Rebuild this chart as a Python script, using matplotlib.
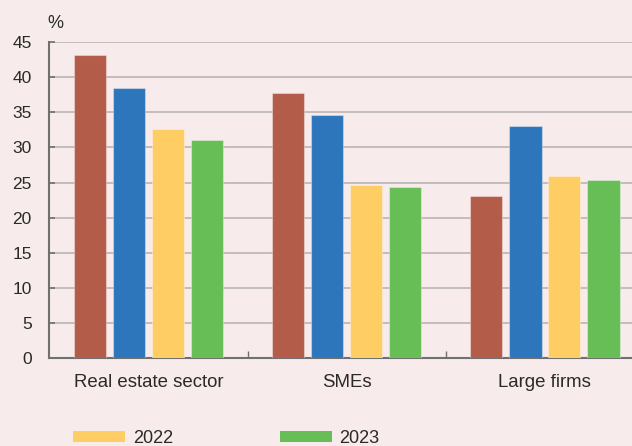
import numpy as np
import matplotlib
matplotlib.use("Agg")
import matplotlib.pyplot as plt

plt.rcParams['font.family'] = ['Liberation Sans', 'DejaVu Sans']

categories = ["Real estate sector", "SMEs", "Large firms"]
series_names = ["2020", "2021", "2022", "2023"]
values = {
    "2020": [43.1, 37.7, 23.1],
    "2021": [38.5, 34.6, 33.0],
    "2022": [32.6, 24.6, 25.9],
    "2023": [31.1, 24.3, 25.3],
}
legend_series = ["2022", "2023"]
yticks = list(range(0, 50, 5))

colors = {"2020": "#b35c4a", "2021": "#2e76bb", "2022": "#fecd63", "2023": "#68be56"}
bg = "#f7ebeb"
text_col = "#2a2a2a"

W, H = 632, 446
fig = plt.figure(figsize=(W / 100, H / 100), dpi=100, facecolor=bg)
ax = fig.add_axes([49.3 / W, (H - 358.3) / H, 594.7 / W, 316.3 / H], facecolor=bg)

x = np.arange(len(categories))
offsets = [-0.296, -0.098, 0.098, 0.295]
width = 0.163
handles = {}
for off, name in zip(offsets, series_names):
    b = ax.bar(x + off, values[name], width=width, color=colors[name],
               edgecolor=(1, 1, 1, 0.35), linewidth=0.8, zorder=3, label=name)
    handles[name] = b

ax.set_xlim(-0.5, 2.5)
ax.set_ylim(0, 45)
ax.set_yticks(yticks)
ax.set_yticklabels([str(v) for v in yticks])
ax.yaxis.grid(True, color="#bab4b4", linewidth=1.2, zorder=0)
ax.set_axisbelow(True)
for s in ["top", "right"]:
    ax.spines[s].set_visible(False)
for s in ["left", "bottom"]:
    ax.spines[s].set_color("#707070")
    ax.spines[s].set_linewidth(1.5)
ax.tick_params(axis="y", direction="in", length=4, width=1.2, color="#707070",
               labelsize=12.5, labelcolor=text_col, pad=12.7)
ax.set_xticks([0.5, 1.5])
ax.set_xticklabels([])
ax.tick_params(axis="x", direction="in", length=5, width=1, color="#707070")

# category labels below each group
for xi, lab in zip(x, categories):
    ax.annotate(lab, xy=(xi, 0), xycoords=("data", "axes fraction"),
                xytext=(0, -24.2 * 0.72), textcoords="offset points",
                ha="center", va="center", fontsize=13.4, color=text_col)

fig.text(55.5 / W, 1 - 23 / H, "%", ha="center", va="center", fontsize=13, color=text_col)

leg = fig.legend([handles[n] for n in legend_series], legend_series,
                 loc="center left", bbox_to_anchor=(73.3 / W, 1 - 438.5 / H),
                 ncol=2, frameon=False, fontsize=13, handlelength=2.88,
                 handleheight=0.55, handletextpad=0.43, columnspacing=5.9,
                 borderpad=0, borderaxespad=0, labelcolor=text_col)
for p in leg.get_patches():
    p.set_edgecolor("none")

fig.savefig("out.png", dpi=100, facecolor=bg)
